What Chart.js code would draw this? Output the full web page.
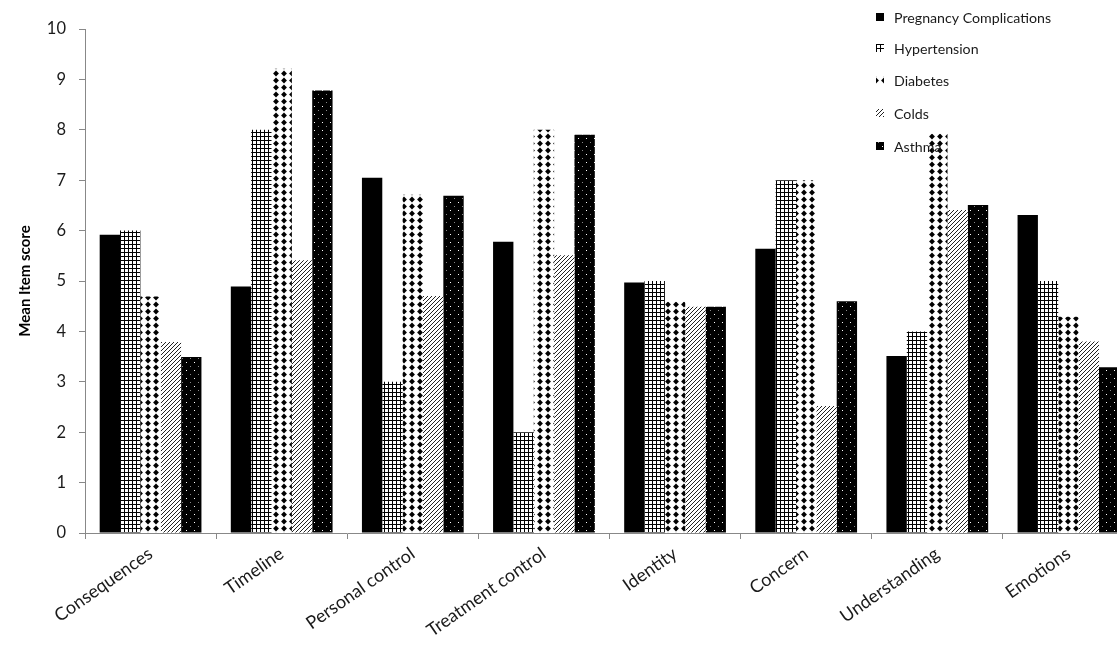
<!DOCTYPE html>
<html>
<head>
<meta charset="utf-8">
<script src="https://cdn.jsdelivr.net/npm/chart.js@4/dist/chart.umd.min.js"></script>
<style>
  html, body { margin: 0; padding: 0; background: #fff; overflow: hidden; width: 1117px; height: 652px; }
  #wrap { width: 1140px; height: 652px; }
</style>
</head>
<body>
<div id="wrap"><canvas id="c" width="1140" height="652"></canvas></div>
<script>
const categories = ["Consequences", "Timeline", "Personal control", "Treatment control", "Identity", "Concern", "Understanding", "Emotions"];
const seriesNames = ["Pregnancy Complications", "Hypertension", "Diabetes", "Colds", "Asthma"];
const pregnancyComplications = [5.92, 4.89, 7.05, 5.78, 4.97, 5.64, 3.51, 6.31];
const hypertension = [6.0, 8.0, 3.0, 2.0, 5.0, 7.0, 4.0, 5.0];
const diabetes = [4.69, 9.21, 6.71, 8.0, 4.59, 7.0, 7.92, 4.29];
const colds = [3.79, 5.41, 4.7, 5.51, 4.49, 2.52, 6.41, 3.8];
const asthma = [3.49, 8.78, 6.69, 7.9, 4.49, 4.6, 6.51, 3.29];
const yMin = 0, yMax = 10, yStep = 1;

const tmp = document.createElement('canvas').getContext('2d');
function makePattern(w, h, draw) {
  const c = document.createElement('canvas');
  c.width = w; c.height = h;
  const g = c.getContext('2d');
  draw(g, w, h);
  return tmp.createPattern(c, 'repeat');
}
const patSolid = '#000000';
const patGrid = makePattern(4, 4, (g) => {
  g.fillStyle = '#fff'; g.fillRect(0, 0, 4, 4);
  g.fillStyle = '#000'; g.fillRect(0, 0, 4, 1); g.fillRect(0, 0, 1, 4);
});
const patDiamond = makePattern(8, 7, (g) => {
  g.fillStyle = '#fff'; g.fillRect(0, 0, 8, 7);
  g.fillStyle = '#000';
  g.beginPath(); g.moveTo(4, 0.6); g.lineTo(6.9, 3.5); g.lineTo(4, 6.4); g.lineTo(1.1, 3.5); g.closePath(); g.fill();
});
const patDiag = makePattern(4, 4, (g) => {
  g.fillStyle = '#fff'; g.fillRect(0, 0, 4, 4);
  g.fillStyle = '#222';
  g.fillRect(0, 3, 1, 1); g.fillRect(1, 2, 1, 1); g.fillRect(2, 1, 1, 1); g.fillRect(3, 0, 1, 1);
});
const patDots = makePattern(8, 8, (g) => {
  g.fillStyle = '#000'; g.fillRect(0, 0, 8, 8);
  g.fillStyle = '#fff'; g.fillRect(2, 2, 1, 1);
  g.fillStyle = '#888'; g.fillRect(6, 6, 1, 1);
});
const fills = [patSolid, patGrid, patDiamond, patDiag, patDots];
const seriesData = [pregnancyComplications, hypertension, diabetes, colds, asthma];

const legendPlugin = {
  id: 'customLegend',
  afterDraw(chart) {
    const ctx = chart.ctx;
    ctx.save();
    const ys = [17, 48, 80, 113, 146];
    chart.data.datasets.forEach((ds, i) => {
      const y = ys[i];
      ctx.fillStyle = ds.backgroundColor;
      ctx.fillRect(876, y - 4, 8, 8);
      ctx.fillStyle = '#1a1a1a';
      ctx.font = '14.2px Lato';
      ctx.textBaseline = 'middle';
      ctx.textAlign = 'left';
      ctx.fillText(ds.label, 894, y + 1);
    });
    ctx.restore();
  }
};

new Chart(document.getElementById('c'), {
  type: 'bar',
  data: {
    labels: categories,
    datasets: seriesNames.map((name, i) => ({
      label: name,
      data: seriesData[i],
      backgroundColor: fills[i],
      borderWidth: 0,
      categoryPercentage: 0.776,
      barPercentage: 1.0
    }))
  },
  options: {
    responsive: false,
    animation: false,
    devicePixelRatio: 1,
    layout: { padding: { top: 29, right: 6, left: 0, bottom: 0 } },
    plugins: { legend: { display: false }, tooltip: { enabled: false } },
    scales: {
      x: {
        grid: { display: true, drawOnChartArea: false, drawTicks: true, tickLength: 6, color: '#888', offset: true },
        border: { color: '#888', width: 1 },
        ticks: { color: '#1a1a1a', font: { family: 'Lato', size: 18 }, minRotation: 35, maxRotation: 35, padding: 4, autoSkip: false },
        afterFit(scale) { scale.height = 652 - 533; }
      },
      y: {
        min: yMin, max: yMax,
        grid: { display: true, drawOnChartArea: false, drawTicks: true, tickLength: 6, color: '#888' },
        border: { color: '#888', width: 1 },
        ticks: { stepSize: yStep, color: '#1a1a1a', font: { family: 'Lato', size: 16.5 }, padding: 13 },
        title: { display: true, text: 'Mean Item score', color: '#000', font: { family: 'Lato', size: 15, weight: 'bold' }, padding: { top: 16, bottom: 0 } },
        afterFit(scale) { scale.width = 85; }
      }
    }
  },
  plugins: [legendPlugin]
});
</script>
</body>
</html>
